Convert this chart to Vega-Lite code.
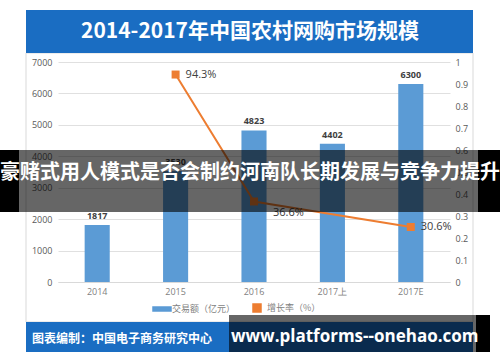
{
  "$schema": "https://vega.github.io/schema/vega-lite/v6.json",
  "width": 392,
  "height": 220,
  "autosize": {"type": "none"},
  "padding": {"left": 58, "top": 62, "right": 50, "bottom": 80},
  "background": "white",
  "config": {"view": {"stroke": null}, "font": "Open Sans"},
  "data": {"values": [
    {"year": "2014", "amount": 1817, "rate": null, "rateLabel": null},
    {"year": "2015", "amount": 3530, "rate": 0.943, "rateLabel": "94.3%"},
    {"year": "2016", "amount": 4823, "rate": 0.366, "rateLabel": "36.6%"},
    {"year": "2017上", "amount": 4402, "rate": null, "rateLabel": null},
    {"year": "2017E", "amount": 6300, "rate": 0.25, "rateLabel": "30.6%"}
  ]},
  "layer": [
    {
      "data": {"values": [{}]},
      "mark": {"type": "rect", "fill": null, "fillOpacity": 0, "stroke": "#d9d9d9", "strokeWidth": 1},
      "encoding": {"x": {"value": -32}, "x2": {"value": 415}, "y": {"value": -9}, "y2": {"value": 260}}
    },
    {
      "data": {"values": [{}]},
      "mark": {"type": "rect", "fill": "#1a6dc2"},
      "encoding": {"x": {"value": -32}, "x2": {"value": 415}, "y": {"value": -52}, "y2": {"value": -9}}
    },
    {
      "data": {"values": [{"t": "2014-2017年中国农村网购市场规模"}]},
      "mark": {"type": "text", "font": "Noto Sans CJK SC", "fontSize": 21, "fontWeight": "bold", "color": "white", "align": "center", "baseline": "middle"},
      "encoding": {"x": {"value": 192}, "y": {"value": -30}, "text": {"field": "t"}}
    },
    {
      "data": {"values": [{}]},
      "mark": {"type": "rect", "fill": "#1a6dc2"},
      "encoding": {"x": {"value": -32}, "x2": {"value": 415}, "y": {"value": 260}, "y2": {"value": 290}}
    },
    {
      "data": {"values": [{"t": "图表编制：中国电子商务研究中心"}]},
      "mark": {"type": "text", "font": "Noto Sans CJK SC", "fontSize": 12, "fontWeight": "bold", "color": "white", "align": "left", "baseline": "middle"},
      "encoding": {"x": {"value": -26}, "y": {"value": 277}, "text": {"field": "t"}}
    },
    {
      "encoding": {
        "x": {"field": "year", "type": "ordinal", "sort": null,
          "scale": {"paddingInner": 0.68, "paddingOuter": 0.34},
          "axis": {"title": null, "labelAngle": 0, "labelFontSize": 9, "labelColor": "#7f7f7f", "ticks": false, "domainColor": "#d9d9d9", "labelPadding": 5, "zindex": 0}},
        "y": {"field": "amount", "type": "quantitative", "scale": {"domain": [0, 7000]},
          "axis": {"title": null, "values": [0, 1000, 2000, 3000, 4000, 5000, 6000, 7000], "format": "d", "labelOverlap": false, "grid": true, "gridColor": "#e0e0e0", "domain": false, "ticks": false, "labelFontSize": 9, "labelColor": "#595959", "labelPadding": 6, "zindex": 0}}
      },
      "layer": [
        {
          "mark": {"type": "bar"},
          "encoding": {
            "color": {"datum": "交易额（亿元）", "type": "nominal",
              "scale": {"domain": ["交易额（亿元）", "增长率（%）"], "range": ["#5b9bd5", "#ed7d31"]},
              "legend": {"orient": "none", "legendX": 99, "legendY": 241, "direction": "horizontal", "title": null,
                "symbolType": "square", "symbolSize": 64, "labelFontSize": 9, "labelColor": "#7f7f7f", "labelFont": "Noto Sans CJK SC", "columnPadding": 14, "labelOffset": 5,
                "encode": {"symbols": {"update": {
                  "shape": {"signal": "datum.value === '交易额（亿元）' ? 'M-1,-0.22H1V0.22H-1Z' : 'square'"},
                  "size": {"signal": "datum.value === '交易额（亿元）' ? 324 : 64"}
                }}}}}
          }
        },
        {
          "mark": {"type": "text", "dy": -9, "fontSize": 9, "fontWeight": "bold", "color": "#404040"},
          "encoding": {
            "text": {"field": "amount", "type": "quantitative", "format": "d"}
          }
        }
      ]
    },
    {
      "transform": [{"filter": "datum.rate != null"}],
      "encoding": {
        "x": {"field": "year", "type": "ordinal", "sort": null},
        "y": {"field": "rate", "type": "quantitative", "scale": {"domain": [0, 1]},
          "axis": {"orient": "right", "title": null, "values": [0, 0.1, 0.2, 0.3, 0.4, 0.5, 0.6, 0.7, 0.8, 0.9, 1], "format": "~g", "labelOverlap": false, "grid": false, "domain": false, "ticks": false, "labelFontSize": 9, "labelColor": "#595959", "labelPadding": 5, "zindex": 0}}
      },
      "layer": [
        {
          "mark": {"type": "line", "strokeWidth": 2},
          "encoding": {
            "color": {"datum": "增长率（%）", "type": "nominal"}
          }
        },
        {
          "mark": {"type": "point", "shape": "square", "filled": true, "size": 64, "opacity": 1},
          "encoding": {
            "color": {"datum": "增长率（%）", "type": "nominal"}
          }
        },
        {
          "transform": [{"filter": "datum.year != '2016'"}],
          "mark": {"type": "text", "align": "left", "dx": 10, "fontSize": 11, "color": "#404040"},
          "encoding": {
            "text": {"field": "rateLabel"}
          }
        },
        {
          "transform": [{"filter": "datum.year == '2016'"}],
          "mark": {"type": "text", "align": "left", "dx": 19, "dy": 12, "fontSize": 11, "color": "#404040"},
          "encoding": {
            "text": {"field": "rateLabel"}
          }
        }
      ]
    },
    {
      "data": {"values": [{}]},
      "mark": {"type": "rect", "fill": "black", "opacity": 0.6},
      "encoding": {"x": {"value": -39}, "x2": {"value": 420}, "y": {"value": 88}, "y2": {"value": 150}}
    },
    {
      "data": {"values": [{}]},
      "mark": {"type": "rect", "fill": "black"},
      "encoding": {"x": {"value": -58}, "x2": {"value": -39}, "y": {"value": 88}, "y2": {"value": 150}}
    },
    {
      "data": {"values": [{}]},
      "mark": {"type": "rect", "fill": "black"},
      "encoding": {"x": {"value": 420}, "x2": {"value": 442}, "y": {"value": 88}, "y2": {"value": 150}}
    },
    {
      "data": {"values": [{"t": "豪赌式用人模式是否会制约河南队长期发展与竞争力提升"}]},
      "mark": {"type": "text", "font": "Noto Sans CJK SC", "fontSize": 20, "fontWeight": "bold", "color": "white", "align": "center", "baseline": "middle"},
      "encoding": {"x": {"value": 192}, "y": {"value": 111}, "text": {"field": "t"}}
    },
    {
      "data": {"values": [{}]},
      "mark": {"type": "rect", "fill": "black", "opacity": 0.6},
      "encoding": {"x": {"value": 171}, "x2": {"value": 418}, "y": {"value": 253}, "y2": {"value": 290}}
    },
    {
      "data": {"values": [{}]},
      "mark": {"type": "rect", "fill": "black"},
      "encoding": {"x": {"value": 418}, "x2": {"value": 432}, "y": {"value": 253}, "y2": {"value": 290}}
    },
    {
      "data": {"values": [{"t": "www.platforms--onehao.com"}]},
      "mark": {"type": "text", "font": "Open Sans", "fontSize": 17, "fontWeight": "bold", "color": "white", "align": "left", "baseline": "middle"},
      "encoding": {"x": {"value": 173}, "y": {"value": 275}, "text": {"field": "t"}}
    }
  ],
  "resolve": {"scale": {"y": "independent"}}
}
